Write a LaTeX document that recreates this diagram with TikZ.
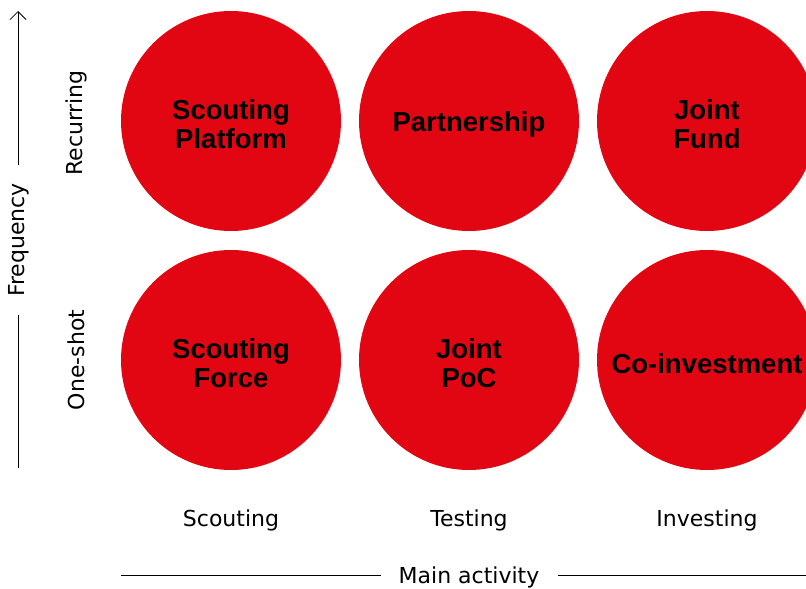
\documentclass[tikz,border=0pt]{standalone}
\usepackage{fontspec}
\setmainfont{Liberation Sans}
\newfontfamily\labelfont{DejaVu Sans}
\usepackage{xcolor}
\usetikzlibrary{arrows.meta}
\definecolor{boxred}{HTML}{E20613}
\tikzset{
  bubble/.style={circle,fill=boxred,minimum size=220pt,inner sep=0pt},
  bubbletext/.style={align=center,inner sep=0pt,yshift=-3.5pt,
    font=\fontsize{27.5}{29}\selectfont\bfseries},
  axislabel/.style={font=\labelfont\fontsize{22}{24}\selectfont,inner sep=0pt},
  axistitle/.style={font=\labelfont\fontsize{22}{24}\selectfont,inner ysep=0pt,inner xsep=18pt}
}

\begin{document}
\begin{tikzpicture}[x=1pt,y=-1pt]
  \useasboundingbox (0,0) rectangle (806,589);
  \begin{scope}
  \clip (0,0) rectangle (806,589);
  \node[bubble] (SP) at (231,121) {};
  \node[bubble] (PA) at (469,121) {};
  \node[bubble] (JF) at (707,121) {};
  \node[bubble] (SF) at (231,360) {};
  \node[bubble] (JP) at (469,360) {};
  \node[bubble] (CI) at (707,360) {};
  \node[bubbletext] (SPtext) at (SP) {Scouting\\Platform};
  \node[bubbletext] (PAtext) at (PA) {Partnership};
  \node[bubbletext] (JFtext) at (JF) {Joint\\Fund};
  \node[bubbletext] (SFtext) at (SF) {Scouting\\Force};
  \node[bubbletext] (JPtext) at (JP) {Joint\\PoC};
  \node[bubbletext] (CItext) at (CI) {Co-investment};
  \end{scope}
  % row and column labels
  \node[axislabel,rotate=90] (rec) at (76,123) {Recurring};
  \node[axislabel,rotate=90] (one) at (76,360) {One-shot};
  \node[axislabel] (sco) at (231,520) {Scouting};
  \node[axislabel] (tes) at (469,520) {Testing};
  \node[axislabel] (inv) at (707,520) {Investing};
  % axes
  \node[axistitle,rotate=90] (freq) at (19,240) {Frequency};
  \coordinate (ftop) at (18,11);
  \coordinate (fbot) at (18,468);
  \node[axistitle] (main) at (469,577) {Main activity};
  \coordinate (mleft) at (121,575);
  \coordinate (mright) at (806,575);
  \path[draw,line width=0.8pt]
    (freq.east -| ftop) edge[-{Straight Barb[length=8pt,width=16pt]}] (ftop)
    (freq.west -| fbot) edge (fbot)
    (main.west |- mleft) edge (mleft)
    (main.east |- mright) edge (mright);
\end{tikzpicture}
\end{document}
